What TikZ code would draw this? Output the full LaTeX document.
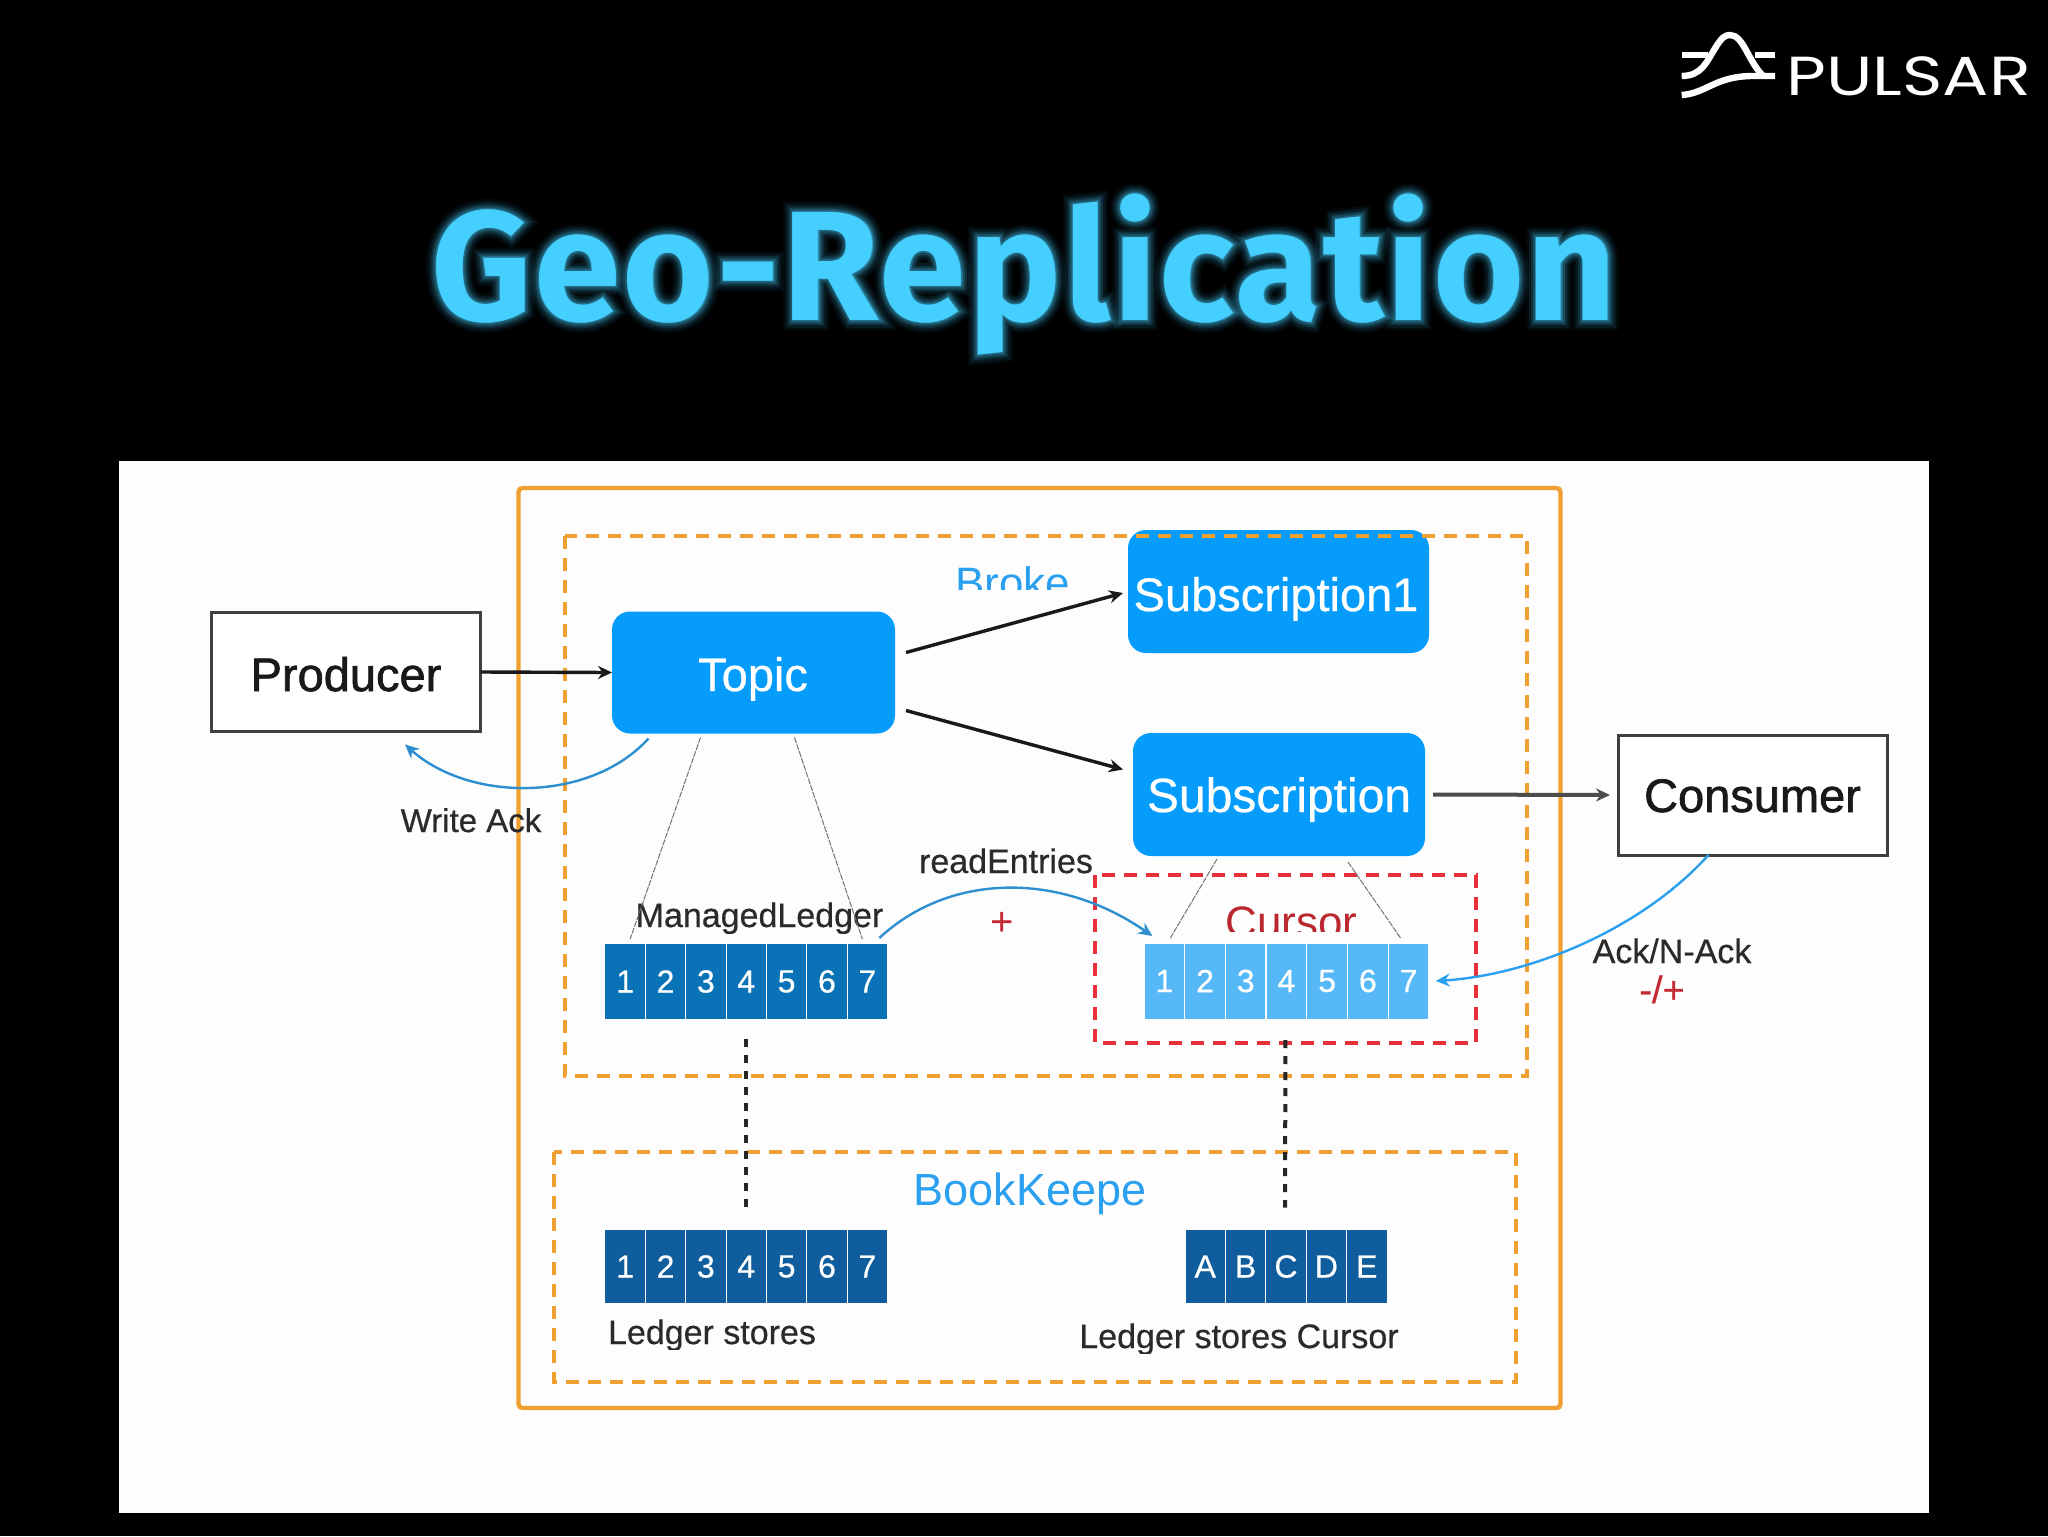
\documentclass[tikz,border=0pt]{standalone}
\usepackage{fontspec}
\usetikzlibrary{arrows.meta}
\setmainfont{Liberation Sans}
\newfontfamily\titlefont[LetterSpace=1.7]{Fira Sans}
\newfontfamily\glowa[LetterSpace=1.7,BoldFeatures={FakeBold=13}]{Fira Sans}
\newfontfamily\glowb[LetterSpace=1.7,BoldFeatures={FakeBold=10}]{Fira Sans}
\newfontfamily\glowc[LetterSpace=1.7,BoldFeatures={FakeBold=7}]{Fira Sans}
\newfontfamily\glowd[LetterSpace=1.7,BoldFeatures={FakeBold=4.5}]{Fira Sans}
\newfontfamily\glowe[LetterSpace=1.7,BoldFeatures={FakeBold=2}]{Fira Sans}
\newfontfamily\logofont[FakeStretch=1.25]{Poppins}
\newfontfamily\medfont[FakeBold=1.4]{Liberation Sans}
\newfontfamily\softfont[FakeBold=.5]{Liberation Sans}
\definecolor{panel}{HTML}{FDFDFD}
\definecolor{tblue}{HTML}{069CFB}
\definecolor{dcell}{HTML}{0A72B6}
\definecolor{bcell}{HTML}{0F5D9C}
\definecolor{lcell}{HTML}{56B8F6}
\definecolor{orangeb}{HTML}{F0A030}
\definecolor{redb}{HTML}{E8303A}
\definecolor{lblue}{HTML}{2BA0F0}
\definecolor{cblue}{HTML}{2E8FD0}
\definecolor{titleb}{HTML}{45CFFF}
\definecolor{txt}{HTML}{2A2A2A}
\tikzset{
 every node/.style={inner sep=0pt,outer sep=0pt,text=txt},
 bluebox/.style={fill=tblue,rounded corners=9pt,text=white},
 whitebox/.style={draw=black!75,line width=1.5pt,fill=white},
 cellnode/.style={minimum width=20.2pt,draw=white,line width=.5pt,text=white,font=\softfont\fontsize{16}{16}\selectfont},
 lbl/.style={anchor=base,font=\softfont\fontsize{17}{17}\selectfont},
 bigblue/.style={anchor=base,font=\fontsize{22}{22}\selectfont,text=lblue},
 odash/.style={draw=orangeb,line width=2pt,dash pattern=on 6.5pt off 4.5pt},
 rdash/.style={draw=redb,line width=2.4pt,dash pattern=on 6.5pt off 4.5pt},
 harrow/.style={draw=black!90,line width=1.7pt,-{Stealth[length=7pt,width=6.5pt]}},
 thinline/.style={draw=black!55,line width=.5pt,dash pattern=on 3pt off .6pt},
 curvearrow/.style={line width=1.2pt,-{Stealth[length=7pt,width=6.5pt]}},
 dotline/.style={draw=black!85,line width=2pt,dash pattern=on 4pt off 4pt},
 titletext/.style={anchor=base,text=titleb}
}
\begin{document}
\begin{tikzpicture}[x=.5pt,y=-.5pt]
\useasboundingbox (0,0) rectangle (2048,1536);
\fill[black] (0,0) rectangle (2048,1536);
\fill[panel] (119,461) rectangle (1929,1513);
% logo
\begin{scope}[shift={(1640,0)},x=.16667pt,y=-.16667pt,line width=3.2pt,white]
\draw (125,165) -- (205,165);
\draw (345,165) -- (405,165);
\draw (125,228) .. controls (185,228) and (200,185) .. (225,145) .. controls (245,112) and (255,105) .. (270,105) .. controls (310,105) and (325,185) .. (368,226);
\draw (125,285) .. controls (200,280) and (225,228) .. (340,228) -- (405,228);
\node[anchor=base west,text=white,font=\logofont\fontsize{27.5}{27.5}\selectfont] (logotext) at (440,285) {PULSAR};
\end{scope}
% title
\node[titletext,opacity=.05,font=\glowa\bfseries\fontsize{78}{78}\selectfont] (titleglowa) at (1024,320) {Geo-Replication};
\node[titletext,opacity=.08,font=\glowb\bfseries\fontsize{78}{78}\selectfont] (titleglowb) at (1024,320) {Geo-Replication};
\node[titletext,opacity=.12,font=\glowc\bfseries\fontsize{78}{78}\selectfont] (titleglowc) at (1024,320) {Geo-Replication};
\node[titletext,opacity=.18,font=\glowd\bfseries\fontsize{78}{78}\selectfont] (titleglowd) at (1024,320) {Geo-Replication};
\node[titletext,opacity=.25,font=\glowe\bfseries\fontsize{78}{78}\selectfont] (titleglowe) at (1024,320) {Geo-Replication};
\node[titletext,font=\titlefont\bfseries\fontsize{78}{78}\selectfont] (title) at (1024,320) {Geo-Replication};
% main nodes
\node[whitebox,minimum width=134.5pt,minimum height=59.5pt] (producer) at (346,672) {};
\node[anchor=base,font=\medfont\fontsize{23.5}{23.5}\selectfont,text=black!90] at (346,691) {Producer};
\node[bluebox,minimum width=141.5pt,minimum height=61pt] (topic) at (753.5,672.5) {};
\node[anchor=base,text=white,font=\softfont\fontsize{23.5}{23.5}\selectfont] at (753,691) {Topic};
\node[bluebox,minimum width=150.5pt,minimum height=61.5pt] (subone) at (1278.5,591.5) {};
\node[anchor=base,text=white,font=\softfont\fontsize{23.5}{23.5}\selectfont] at (1276,611) {Subscription1};
\node[bluebox,minimum width=146pt,minimum height=61.5pt] (sub) at (1279,794.5) {};
\node[anchor=base,text=white,font=\softfont\fontsize{24}{24}\selectfont] at (1279,812) {Subscription};
\node[whitebox,minimum width=134.5pt,minimum height=60pt] (consumer) at (1752.5,795) {};
\node[anchor=base,font=\medfont\fontsize{23.5}{23.5}\selectfont,text=black!90] at (1752.5,812) {Consumer};
% cells
\foreach \i in {1,...,7}{
 \node[cellnode,fill=dcell,minimum height=38pt] (ml\i) at ({605+40.36*(\i-.5)},981.5) {\i};
 \node[cellnode,fill=lcell,minimum height=38pt] (cu\i) at ({1144+40.7*(\i-.5)},981) {\i};
 \node[cellnode,fill=bcell,minimum height=37pt] (bl\i) at ({605+40.36*(\i-.5)},1266.5) {\i};
}
\foreach \c [count=\i] in {A,B,C,D,E}{
 \node[cellnode,fill=bcell,minimum height=37pt] (bc\i) at ({1185+40.4*(\i-.5)},1266.5) {\c};
}
% boxes
\draw[draw=orangeb,line width=2.2pt,rounded corners=2pt] (518.5,488) rectangle (1560.5,1408);
\draw[odash] (565,536) rectangle (1527,1076);
\draw[odash] (554,1152) rectangle (1516,1382);
\draw[rdash] (1095,875) rectangle (1476,1043);
% clipped labels
\begin{scope}
\clip (900,540) rectangle (1120,589);
\node[bigblue] (broke) at (1012.5,598) {Broke};
\end{scope}
\begin{scope}
\clip (1180,890) rectangle (1400,931);
\node[bigblue,text=redb!80!black] (cursorl) at (1291.5,937) {Cursor};
\end{scope}
\begin{scope}
\clip (600,880) rectangle (900,933);
\node[lbl] (mledger) at (759.5,927) {ManagedLedger};
\end{scope}
\node[bigblue,font=\fontsize{22.5}{22.5}\selectfont] (bookk) at (1030,1205) {BookKeepe};
\begin{scope}
\clip (590,1300) rectangle (830,1349);
\node[lbl] (lstores) at (712,1344) {Ledger stores};
\end{scope}
\begin{scope}
\clip (1060,1300) rectangle (1410,1353);
\node[lbl] (lscursor) at (1239,1348) {Ledger stores Cursor};
\end{scope}
\node[lbl] (readent) at (1006,873) {readEntries};
\node[lbl,text=redb!85!black,font=\fontsize{20}{20}\selectfont] (plus) at (1002,935) {+};
\node[lbl,font=\softfont\fontsize{16.5}{16.5}\selectfont] (writeack) at (471,832) {Write Ack};
\node[lbl] (ackn) at (1672,963) {Ack/N-Ack};
\node[lbl,text=redb!85!black,font=\softfont\fontsize{19}{19}\selectfont] (mp) at (1662,1003) {-/+};
% connectors
\draw[harrow] (producer.east) -- (topic.west);
\draw[harrow] ([shift={(11,-20)}]topic.east) -- ([shift={(-5,1.5)}]subone.west);
\draw[harrow] ([shift={(11,38)}]topic.east) -- ([shift={(-10,-25)}]sub.west);
\draw[harrow,draw=black!70,line width=2pt] ([shift={(8,0)}]sub.east) -- ([shift={(-8,0)}]consumer.west);
\draw[curvearrow,cblue] ([shift={(-105,5)}]topic.south) .. controls +(-58,64) and +(65,58) .. ([shift={(59,13)}]producer.south);
\draw[curvearrow,cblue] ([shift={(12,-5.5)}]ml7.north) .. controls +(71,-66) and +(-92,-64) .. ([shift={(-12,-7)}]cu1.north);
\draw[curvearrow,lblue] ([shift={(-44,0)}]consumer.south) .. controls +(-68,75) and +(94,-6) .. ([shift={(7,0)}]cu7.east);
\draw[thinline] ([shift={(-53,4)}]topic.south) -- ([shift={(5,-4.5)}]ml1.north);
\draw[thinline] ([shift={(41,4)}]topic.south) -- ([shift={(-5,-4.5)}]ml7.north);
\draw[thinline] ([shift={(-62,3)}]sub.south) -- ([shift={(6,-5)}]cu1.north);
\draw[thinline] ([shift={(69,6)}]sub.south) -- ([shift={(-8,-5)}]cu7.north);
\draw[dotline] ([shift={(0,19)}]ml4.south) -- ([shift={(0,-18)}]bl4.north);
\draw[dotline] ([shift={(-1,21)}]cu4.south) -- ([shift={(-1,-22)}]bc3.north);
\end{tikzpicture}
\end{document}
